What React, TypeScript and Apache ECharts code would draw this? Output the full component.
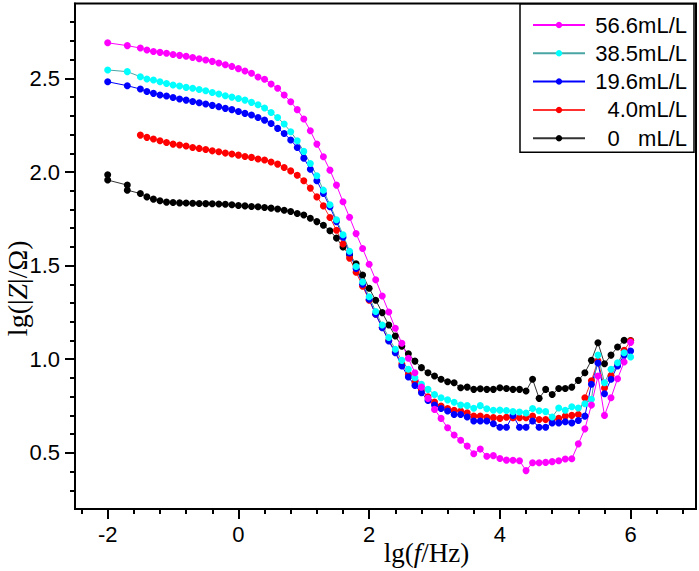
import React, { useEffect, useRef } from 'react';
import * as echarts from 'echarts';

// lg(f/Hz) sampling points
const lgF = [
  -2.0, -1.7, -1.5, -1.4, -1.3, -1.2, -1.1, -1.0, -0.9, -0.8,
  -0.7, -0.6, -0.5, -0.4, -0.3, -0.2, -0.1, 0.0, 0.1, 0.2,
  0.3, 0.4, 0.5, 0.6, 0.7, 0.8, 0.9, 1.0, 1.1, 1.2,
  1.3, 1.4, 1.5, 1.6, 1.7, 1.8, 1.9, 2.0, 2.1, 2.2,
  2.3, 2.4, 2.5, 2.6, 2.7, 2.8, 2.9, 3.0, 3.1, 3.2,
  3.3, 3.4, 3.5, 3.6, 3.7, 3.8, 3.9, 4.0, 4.1, 4.2,
  4.3, 4.4, 4.5, 4.6, 4.7, 4.8, 4.9, 5.0, 5.1, 5.2,
  5.3, 5.4, 5.5, 5.6, 5.7, 5.8, 5.9, 6.0,
];

const z566 = [
  2.69, 2.675, 2.662, 2.652, 2.644, 2.639, 2.634, 2.628, 2.623, 2.618,
  2.612, 2.605, 2.598, 2.591, 2.582, 2.573, 2.564, 2.552, 2.539, 2.527,
  2.507, 2.495, 2.47, 2.447, 2.411, 2.375, 2.333, 2.283, 2.22, 2.149,
  2.081, 2.01, 1.93, 1.841, 1.758, 1.671, 1.591, 1.507, 1.424, 1.338,
  1.252, 1.165, 1.085, 1.005, 0.928, 0.851, 0.791, 0.732, 0.684, 0.634,
  0.595, 0.567, 0.536, 0.495, 0.52, 0.482, 0.485, 0.47, 0.461, 0.46,
  0.458, 0.405, 0.447, 0.447, 0.449, 0.453, 0.458, 0.467, 0.468, 0.548,
  0.628, 0.755, 0.91, 0.70, 0.794, 0.896, 0.985, 1.09,
];

const z385 = [
  2.545, 2.536, 2.509, 2.497, 2.491, 2.482, 2.473, 2.465, 2.459, 2.452,
  2.447, 2.441, 2.434, 2.425, 2.417, 2.407, 2.40, 2.393, 2.384, 2.372,
  2.359, 2.342, 2.318, 2.291, 2.256, 2.215, 2.167, 2.11, 2.045, 1.98,
  1.903, 1.825, 1.745, 1.665, 1.577, 1.495, 1.412, 1.334, 1.255, 1.183,
  1.116, 1.053, 0.994, 0.946, 0.901, 0.866, 0.839, 0.812, 0.794, 0.783,
  0.770, 0.755, 0.752, 0.738, 0.752, 0.735, 0.727, 0.728, 0.726, 0.72,
  0.718, 0.713, 0.737, 0.725, 0.72, 0.691, 0.739, 0.727, 0.746, 0.739,
  0.762, 0.786, 1.022, 0.874, 0.946, 0.981, 1.035, 1.012,
];

const z196 = [
  2.482, 2.461, 2.443, 2.43, 2.42, 2.411, 2.406, 2.398, 2.39, 2.384,
  2.377, 2.37, 2.363, 2.356, 2.349, 2.34, 2.333, 2.323, 2.313, 2.304,
  2.291, 2.277, 2.259, 2.233, 2.206, 2.171, 2.131, 2.074, 2.015, 1.953,
  1.885, 1.814, 1.735, 1.652, 1.567, 1.485, 1.40, 1.32, 1.24, 1.168,
  1.097, 1.035, 0.964, 0.905, 0.86, 0.821, 0.78, 0.755, 0.737, 0.723,
  0.705, 0.705, 0.691, 0.670, 0.670, 0.67, 0.655, 0.637, 0.637, 0.70,
  0.637, 0.637, 0.670, 0.637, 0.637, 0.66, 0.66, 0.666, 0.66, 0.673,
  0.696, 0.866, 0.98, 0.816, 0.893, 0.964, 1.022, 1.044,
];

const z40 = [
  null, null, 2.197, 2.185, 2.176, 2.167, 2.158, 2.149, 2.144, 2.139,
  2.131, 2.126, 2.12, 2.113, 2.108, 2.101, 2.096, 2.09, 2.083, 2.078,
  2.069, 2.064, 2.053, 2.042, 2.024, 2.006, 1.983, 1.953, 1.914, 1.867,
  1.819, 1.757, 1.689, 1.615, 1.54, 1.465, 1.39, 1.315, 1.24, 1.17,
  1.10, 1.04, 0.975, 0.92, 0.875, 0.835, 0.80, 0.771, 0.75, 0.737,
  0.727, 0.723, 0.714, 0.696, 0.696, 0.69, 0.688, 0.684, 0.69, 0.687,
  0.687, 0.687, 0.696, 0.678, 0.678, 0.678, 0.684, 0.696, 0.70, 0.705,
  0.794, 0.885, 0.992, 0.846, 0.913, 0.971, 1.048, 1.098,
];

const z0 = [
  1.957, 1.903, 1.885, 1.867, 1.855, 1.846, 1.839, 1.837, 1.835, 1.834,
  1.833, 1.832, 1.831, 1.83, 1.829, 1.828, 1.825, 1.821, 1.819, 1.816,
  1.814, 1.81, 1.807, 1.802, 1.796, 1.789, 1.778, 1.77, 1.753, 1.735,
  1.716, 1.686, 1.647, 1.60, 1.558, 1.51, 1.45, 1.379, 1.315, 1.249,
  1.183, 1.124, 1.07, 1.029, 0.99, 0.955, 0.928, 0.91, 0.893, 0.88,
  0.874, 0.848, 0.851, 0.839, 0.842, 0.839, 0.839, 0.848, 0.844, 0.839,
  0.839, 0.83, 0.893, 0.791, 0.839, 0.812, 0.844, 0.844, 0.851, 0.887,
  0.928, 0.994, 1.088, 0.976, 1.022, 1.065, 1.101, 1.10,
];
// repeated measurements of the 0 mL/L sample at the lowest frequencies
const z0RepeatX = [-2.0, -1.7];
const z0RepeatY = [1.985, 1.930];

const xTicks = [-2, 0, 2, 4, 6];
const yTicks = [0.5, 1.0, 1.5, 2.0, 2.5];

const names = ['56.6mL/L', '38.5mL/L', '19.6mL/L', '4.0mL/L', '0   mL/L'];

function toPoints(ys: (number | null)[]) {
  const out: number[][] = [];
  lgF.forEach((x, i) => {
    const y = ys[i];
    if (y !== null && y !== undefined) out.push([x, y]);
  });
  return out;
}

function toPointsWithRepeats(ys: number[], rx: number[], ry: number[]) {
  const out: number[][] = [];
  lgF.forEach((x, i) => {
    const k = rx.indexOf(x);
    if (k >= 0) out.push([x, ry[k]]);
    out.push([x, ys[i]]);
  });
  return out;
}

const SANS = 'Liberation Sans, Arial, sans-serif';
const SERIF = 'Liberation Serif, Times New Roman, serif';

export default function App() {
  const ref = useRef<HTMLDivElement>(null);
  useEffect(() => {
    const chart = echarts.init(ref.current!, undefined, { renderer: 'svg' });
    const mk = (name: string, data: number[][], sym: string, line: string) => ({
      name,
      type: 'line',
      data,
      symbol: 'circle',
      symbolSize: 7,
      showSymbol: true,
      itemStyle: { color: sym },
      lineStyle: { color: line, width: 1 },
      emphasis: { disabled: true },
    });
    const axisCommon = {
      type: 'value',
      axisLine: { show: true, onZero: false, lineStyle: { color: '#000', width: 2 } },
      splitLine: { show: false },
      minorTick: { show: true, splitNumber: 5, length: 5, lineStyle: { color: '#000', width: 2 } },
      minorSplitLine: { show: false },
      nameMoveOverlap: false,
    };
    chart.setOption({
      animation: false,
      backgroundColor: '#fff',
      grid: {
        left: 75, right: 3, top: 3.5, bottom: 62,
        containLabel: false,
        outerBoundsMode: 'none',
        show: true, borderColor: '#000', borderWidth: 2, backgroundColor: 'transparent',
      },
      legend: {
        data: names,
        orient: 'vertical',
        right: 5,
        top: 4,
        padding: [10, 7, 3, 12],
        itemWidth: 52,
        itemHeight: 8,
        itemGap: 6.3,
        borderColor: '#000',
        borderWidth: 1.5,
        backgroundColor: '#fff',
        selectedMode: false,
        formatter: (n: string) => `{r|${n}}`,
        textStyle: {
          color: '#000', fontSize: 22, fontFamily: SANS,
          rich: { r: { width: 97, align: 'right', fontSize: 22, lineHeight: 22, fontFamily: SANS, color: '#000' } },
        },
      },
      xAxis: {
        ...axisCommon,
        min: -2.5,
        max: 7,
        axisTick: { show: true, length: 10, customValues: xTicks, lineStyle: { color: '#000', width: 2 } },
        axisLabel: {
          customValues: xTicks, color: '#000', fontSize: 22, fontFamily: SANS, margin: 14,
          formatter: (v: number) => String(v),
        },
        name: '{a|lg(}{b|f}{a|/Hz)}',
        nameLocation: 'middle',
        nameGap: 30,
        nameTextStyle: {
          padding: [0, 0, 0, 82],
          rich: {
            a: { fontFamily: SERIF, fontSize: 27, color: '#000' },
            b: { fontFamily: SERIF, fontSize: 27, color: '#000', fontStyle: 'italic' },
          },
        },
      },
      yAxis: {
        ...axisCommon,
        min: 0.2,
        max: 2.9,
        axisTick: { show: true, length: 10, customValues: yTicks, lineStyle: { color: '#000', width: 2 } },
        axisLabel: {
          customValues: yTicks, color: '#000', fontSize: 22, fontFamily: SANS, margin: 15,
          formatter: (v: number) => v.toFixed(1),
        },
        name: '{a|lg(|}{b|Z}{a||/Ω)}',
        nameLocation: 'middle',
        nameGap: 44,
        nameTextStyle: {
          padding: [0, 64, 0, 0],
          rich: {
            a: { fontFamily: SERIF, fontSize: 28, color: '#000' },
            b: { fontFamily: SERIF, fontSize: 28, color: '#000', fontStyle: 'italic' },
          },
        },
      },
      series: [
        mk(names[4], toPointsWithRepeats(z0, z0RepeatX, z0RepeatY), '#000000', '#333333'),
        mk(names[3], toPoints(z40), '#ff0000', '#ff3030'),
        mk(names[2], toPoints(z196), '#0000ff', '#0000ff'),
        mk(names[1], toPoints(z385), '#00ffff', '#4aa5a5'),
        mk(names[0], toPoints(z566), '#ff00ff', '#ff00ff'),
      ],
    } as any);
    return () => chart.dispose();
  }, []);
  return <div ref={ref} style={{ position: 'fixed', left: 0, top: 0, width: 699, height: 571 }} />;
}
